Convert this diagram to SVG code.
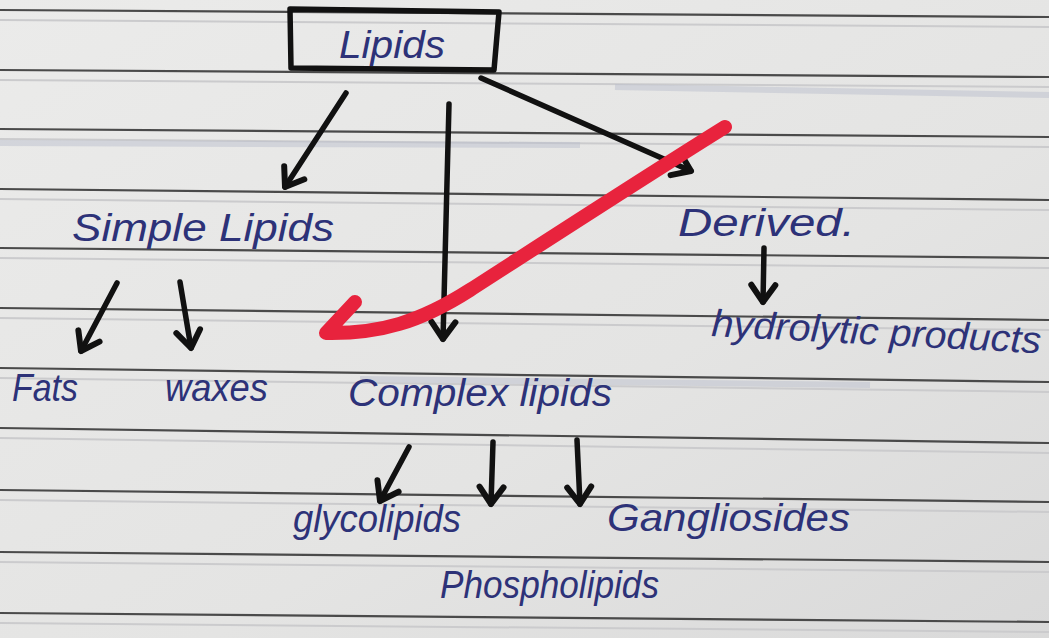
<svg xmlns="http://www.w3.org/2000/svg" width="1049" height="638" viewBox="0 0 1049 638">
<style>
.rule{stroke:#4a4a4a;stroke-width:2.2;fill:none}
.rule2{stroke:#cbcbcd;stroke-width:2;fill:none}
.band{stroke:#bcc0cd;stroke-width:6;fill:none;opacity:0.5}
.ink{font-family:"Liberation Sans",Arial,sans-serif;font-style:italic;fill:#2d3278;font-size:38px}
.arrow{stroke:#111;stroke-width:5.5;fill:none;stroke-linecap:round;marker-end:url(#head)}
.box{stroke:#111;stroke-width:5.5;fill:none;stroke-linejoin:round}
.red{stroke:#e8233d;stroke-width:14;fill:none;stroke-linecap:round;stroke-linejoin:round}
</style>
<defs>
<linearGradient id="paper" x1="0" y1="0" x2="1" y2="1">
<stop offset="0" stop-color="#ebebea"/>
<stop offset="0.6" stop-color="#e4e4e3"/>
<stop offset="1" stop-color="#d9d9d9"/>
</linearGradient>
<marker id="head" markerUnits="userSpaceOnUse" markerWidth="44" markerHeight="44" refX="0" refY="0" orient="auto" viewBox="-22 -22 44 44" overflow="visible">
<path d="M-17,-12 L0,0 L-17,12" stroke="#111" stroke-width="6" fill="none" stroke-linecap="round" stroke-linejoin="round"/>
</marker>
</defs>
<rect width="1049" height="638" fill="url(#paper)"/>
<g id="paper-lines">
<path class="rule2" d="M0,20 L1049,27 M0,80 L1049,87 M0,139 L1049,147 M0,199 L1049,210 M0,258 L1049,268 M0,318 L1049,330 M0,378 L1049,392 M0,438 L1049,453 M0,500 L1049,512 M0,562 L1049,572 M0,623 L1049,632"/>
<path class="rule" d="M0,10 L1049,17 M0,70 L1049,77 M0,129 L1049,137 M0,189 L1049,200 M0,248 L1049,258 M0,308 L1049,320 M0,368 L1049,382 M0,428 L1049,443 M0,490 L1049,502 M0,552 L1049,562 M0,613 L1049,622"/>
<path class="band" d="M0,143 L580,145 M615,87 L1049,95 M360,379 L870,385"/>
</g>
<g id="connectors">
<path class="arrow" d="M346,93 L285,187"/>
<path class="arrow" d="M449,104 Q446,220 443,339"/>
<path class="arrow" d="M481,78 L691,171"/>
<path class="arrow" d="M764,248 L763,302"/>
<path class="arrow" d="M117,283 L81,351"/>
<path class="arrow" d="M180,282 L191,348"/>
<path class="arrow" d="M409,447 L380,501"/>
<path class="arrow" d="M493,442 L491,504"/>
<path class="arrow" d="M577,440 L580,504"/>
</g>
<g id="node-lipids">
<path class="box" d="M290,9 L499,12 L494,70 L291,68 Z"/>
<text class="ink" x="339" y="58" textLength="106" lengthAdjust="spacingAndGlyphs">Lipids</text>
</g>
<g id="node-simple">
<text class="ink" x="72" y="241" font-size="40" textLength="262" lengthAdjust="spacingAndGlyphs">Simple Lipids</text>
</g>
<g id="node-derived">
<text class="ink" x="678" y="236" font-size="40" textLength="177" lengthAdjust="spacingAndGlyphs">Derived.</text>
</g>
<g id="node-hydrolytic">
<text class="ink" x="711" y="336" transform="rotate(3 711 336)" textLength="330" lengthAdjust="spacingAndGlyphs">hydrolytic products</text>
</g>
<g id="node-fats">
<text class="ink" x="12" y="401" textLength="66" lengthAdjust="spacingAndGlyphs">Fats</text>
</g>
<g id="node-waxes">
<text class="ink" x="165" y="401" textLength="103" lengthAdjust="spacingAndGlyphs">waxes</text>
</g>
<g id="node-complex">
<text class="ink" x="348" y="406" textLength="264" lengthAdjust="spacingAndGlyphs">Complex lipids</text>
</g>
<g id="node-glycolipids">
<text class="ink" x="293" y="532" textLength="168" lengthAdjust="spacingAndGlyphs">glycolipids</text>
</g>
<g id="node-gangliosides">
<text class="ink" x="607" y="531" textLength="243" lengthAdjust="spacingAndGlyphs">Gangliosides</text>
</g>
<g id="node-phospholipids">
<text class="ink" x="440" y="598" textLength="219" lengthAdjust="spacingAndGlyphs">Phospholipids</text>
</g>
<g id="red-stroke">
<path class="red" d="M725,127 C640,180 540,245 470,290 C420,322 380,334 326,333 L355,302"/>
</g>
</svg>
